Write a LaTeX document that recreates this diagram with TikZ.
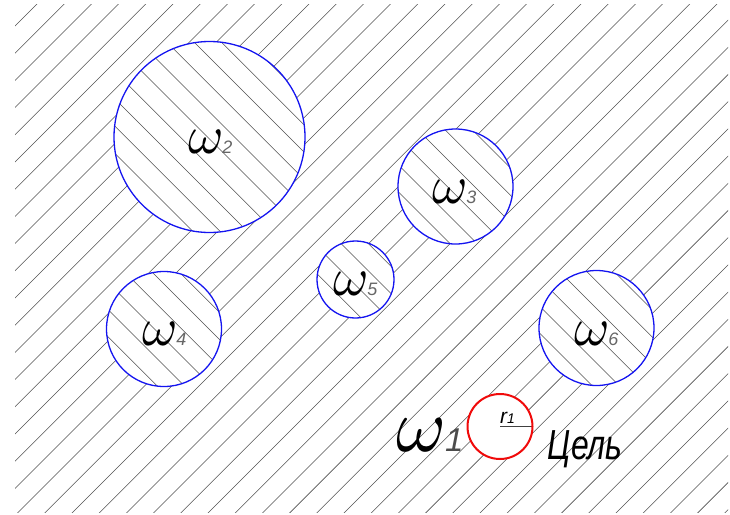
\documentclass[tikz,border=0pt]{standalone}
\usepackage{fontspec}
\setmainfont{Liberation Sans}
\usepackage{xcolor}
\definecolor{cbleu}{RGB}{20,20,240}
\definecolor{crouge}{RGB}{240,10,10}
\definecolor{chach}{RGB}{80,80,80}

\begin{document}
\begin{tikzpicture}[x=1pt,y=-1pt]
\useasboundingbox (0,0) rectangle (730,514);
% hachures du domaine
\begin{scope}
\clip (15,4) rectangle (728,512);
\foreach \k in {0,...,46}
  \draw[chach,line width=0.55pt] ({13.8+27.2*\k},0) -- ++(-600,600);
\end{scope}
% obstacles
\foreach \n/\x/\y/\r in {2/209.5/137/95.5, 3/455.5/186.5/57.5, 4/164/329/57.5,
  5/355.5/279.5/38.5, 6/596.5/328/57.5} {
  \coordinate (w\n) at (\x,\y);
  \fill[white] (w\n) circle (\r);
  \begin{scope}
  \clip (w\n) circle (\r);
  \foreach \k in {-18,...,24}
    \draw[chach,line width=0.55pt] ({16+27.2*\k-60},-60) -- ++(600,600);
  \end{scope}
  \draw[cbleu,line width=1.3pt] (w\n) circle (\r);
}
% cible
\coordinate (t) at (500,426.5);
\fill[white] (t) circle (32.5);
\draw[black!75,line width=0.7pt] (t) -- ++(32.5,0) coordinate (tr);
\draw[crouge,line width=2pt] (t) circle (32.5);
\node[anchor=base west,inner sep=0pt] (r1) at (500,423.5)
  {\itshape\fontsize{21}{21}\selectfont r{\fontsize{14}{14}\selectfont 1}};
% etiquettes
\foreach \n/\x/\y in {2/188/153, 3/432/203, 4/142/345, 5/333/295, 6/574/345}
  \node[anchor=base west,inner sep=0pt] (lw\n) at (\x,\y)
    {\scalebox{5.4}{$\omega$}\kern-1.5pt\itshape\fontsize{18}{18}\selectfont\color{black!60}\n};
\node[anchor=base west,inner sep=0pt] (lw1) at (396,451)
  {\scalebox{7.6}{$\omega$}\kern-1pt\itshape\fontsize{33}{33}\selectfont\color{black!70}1};
\node[anchor=base west,inner sep=0pt] (cible) at (547,459)
  {\scalebox{0.76}[1]{\itshape\fontsize{42}{42}\selectfont Цель}};
\end{tikzpicture}
\end{document}
